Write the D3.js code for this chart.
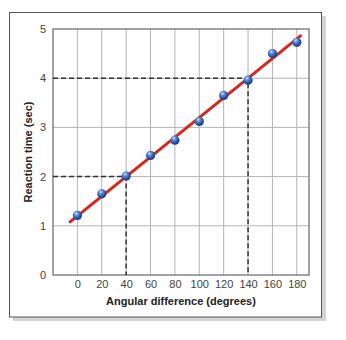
<!DOCTYPE html>
<html>
<head>
<meta charset="utf-8">
<script src="https://cdn.jsdelivr.net/npm/d3@7"></script>
<style>
  html, body { margin: 0; padding: 0; background: #fff; }
  svg { display: block; }
  text { font-family: "Liberation Sans", Arial, sans-serif; }
</style>
</head>
<body>
<script>
// Reaction time vs. angular difference (mental rotation)
const angles = [0, 20, 40, 60, 80, 100, 120, 140, 160, 180];
const reactionTimes = [1.21, 1.65, 2.01, 2.43, 2.74, 3.12, 3.65, 3.96, 4.50, 4.73];
const xTicks = [0, 20, 40, 60, 80, 100, 120, 140, 160, 180];
const yTicks = [0, 1, 2, 3, 4, 5];
// Fitted trend line endpoints (angle, seconds)
const fitX = [-6, 183];
const fitY = [1.08, 4.86];
// Reference read-offs: [angle, seconds]
const guides = [[40, 2], [140, 4]];

const W = 346, H = 340;
const svg = d3.select("body").append("svg").attr("width", W).attr("height", H);

const defs = svg.append("defs");
const grad = defs.append("radialGradient").attr("id", "ball")
  .attr("cx", "40%").attr("cy", "35%").attr("r", "65%")
  .attr("fx", "38%").attr("fy", "28%");
grad.append("stop").attr("offset", "0%").attr("stop-color", "#e8f0ff");
grad.append("stop").attr("offset", "25%").attr("stop-color", "#6f9be0");
grad.append("stop").attr("offset", "70%").attr("stop-color", "#2456b0");
grad.append("stop").attr("offset", "100%").attr("stop-color", "#143a80");

// Outer panel with drop shadow
svg.append("rect").attr("x", 13).attr("y", 16).attr("width", 313).attr("height", 305).attr("fill", "#d4d4d4");
svg.append("rect").attr("x", 9.5).attr("y", 12.5).attr("width", 312).attr("height", 304.5)
  .attr("fill", "#fff").attr("stroke", "#555").attr("stroke-width", 1);

const x = d3.scaleLinear().domain([-20, 190]).range([53, 309]);
const y = d3.scaleLinear().domain([0, 5]).range([275, 29]);

const g = svg.append("g");

// Grid
g.selectAll("line.vg").data(xTicks).join("line").attr("class", "vg")
  .attr("x1", d => x(d)).attr("x2", d => x(d))
  .attr("y1", y(5)).attr("y2", y(0))
  .attr("stroke", "#b4b4b4").attr("stroke-width", 1);
g.selectAll("line.hg").data(yTicks.filter(d => d > 0 && d < 5)).join("line").attr("class", "hg")
  .attr("x1", x(-20)).attr("x2", x(190))
  .attr("y1", d => y(d)).attr("y2", d => y(d))
  .attr("stroke", "#b4b4b4").attr("stroke-width", 1);

// Plot frame
g.append("rect").attr("x", x(-20)).attr("y", y(5))
  .attr("width", x(190) - x(-20)).attr("height", y(0) - y(5))
  .attr("fill", "none").attr("stroke", "#666").attr("stroke-width", 1.2);

// Dashed read-off guides
guides.forEach(([a, t]) => {
  g.append("path")
    .attr("d", `M${x(-20)},${y(t)}H${x(a)}V${y(0)}`)
    .attr("fill", "none").attr("stroke", "#333").attr("stroke-width", 1.5)
    .attr("stroke-dasharray", "5,3");
});

// Fit line
g.append("line")
  .attr("x1", x(fitX[0])).attr("y1", y(fitY[0]))
  .attr("x2", x(fitX[1])).attr("y2", y(fitY[1]))
  .attr("stroke", "#d8261c").attr("stroke-width", 3).attr("stroke-linecap", "round");

// Data points
g.selectAll("circle.pt").data(angles).join("circle").attr("class", "pt")
  .attr("cx", d => x(d)).attr("cy", (d, i) => y(reactionTimes[i]))
  .attr("r", 4.6).attr("fill", "url(#ball)");

// Axis tick labels
const xAxis = d3.axisBottom(x).tickValues(xTicks).tickSize(0).tickPadding(5);
const xa = svg.append("g").attr("transform", `translate(0,${y(0)})`).call(xAxis);
xa.select(".domain").remove();
xa.selectAll("text").attr("font-size", 11).attr("fill", "#444")
  .attr("font-family", "'Liberation Sans', Arial, sans-serif");

const yAxis = d3.axisLeft(y).tickValues(yTicks).tickFormat(d3.format("d")).tickSize(0).tickPadding(7);
const ya = svg.append("g").attr("transform", `translate(${x(-20)},0)`).call(yAxis);
ya.select(".domain").remove();
ya.selectAll("text").attr("font-size", 11).attr("fill", "#444")
  .attr("font-family", "'Liberation Sans', Arial, sans-serif");

// Axis titles
svg.append("text").attr("x", (x(-20) + x(190)) / 2 + 0).attr("y", 305)
  .attr("text-anchor", "middle").attr("font-size", 11).attr("font-weight", "bold")
  .attr("fill", "#222").text("Angular difference (degrees)");
svg.append("text")
  .attr("transform", `translate(32,${(y(0) + y(5)) / 2}) rotate(-90)`)
  .attr("text-anchor", "middle").attr("font-size", 11).attr("font-weight", "bold")
  .attr("fill", "#222").text("Reaction time (sec)");
</script>
</body>
</html>
